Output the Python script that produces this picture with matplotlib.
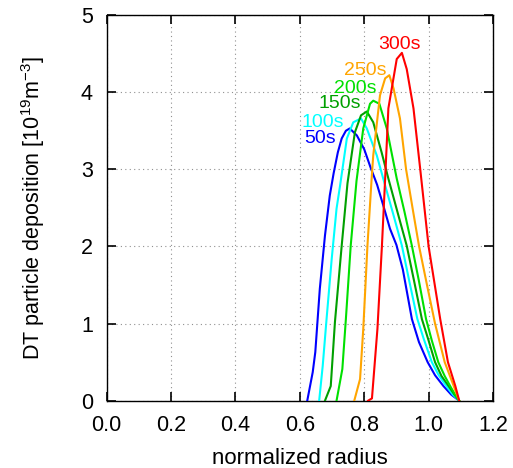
import matplotlib
matplotlib.use("Agg")
import matplotlib.pyplot as plt

plt.rcParams['font.family'] = ['Liberation Sans', 'DejaVu Sans']
plt.rcParams['mathtext.default'] = 'regular'

# ---- data (normalized radius, deposition in 1e19 m^-3) ----
r_50 = [0.623, 0.640, 0.648, 0.662, 0.678, 0.693, 0.705, 0.718, 0.730, 0.743, 0.755,
        0.777, 0.800, 0.820, 0.840, 0.860, 0.880, 0.900, 0.920, 0.948, 0.970, 0.997, 1.020,
        1.046, 1.070, 1.095]
d_50 = [0.0, 0.37, 0.63, 1.45, 2.14, 2.66, 2.95, 3.22, 3.40, 3.50, 3.53,
        3.44, 3.26, 3.02, 2.80, 2.52, 2.23, 2.02, 1.70, 1.06, 0.76, 0.50, 0.33,
        0.19, 0.08, 0.0]

r_100 = [0.660, 0.671, 0.683, 0.699, 0.714, 0.725, 0.746, 0.766, 0.790, 0.808, 0.839,
         0.859, 0.890, 0.917, 0.940, 0.965, 0.985, 1.010, 1.030, 1.055, 1.075, 1.095]
d_100 = [0.0, 0.45, 1.06, 1.84, 2.49, 2.79, 3.40, 3.61, 3.66, 3.53, 3.18,
         2.88, 2.42, 2.01, 1.55, 1.06, 0.80, 0.50, 0.34, 0.19, 0.08, 0.0]

r_150 = [0.678, 0.696, 0.709, 0.730, 0.748, 0.771, 0.790, 0.808, 0.828, 0.854, 0.875,
         0.905, 0.932, 0.955, 0.979, 1.000, 1.020, 1.040, 1.062, 1.080, 1.095]
d_150 = [0.0, 0.19, 1.02, 2.01, 2.82, 3.48, 3.70, 3.75, 3.61, 3.22, 2.88,
         2.42, 2.01, 1.55, 1.06, 0.78, 0.50, 0.32, 0.19, 0.08, 0.0]

r_200 = [0.714, 0.732, 0.743, 0.758, 0.776, 0.797, 0.818, 0.828, 0.847, 0.870, 0.901,
         0.925, 0.948, 0.970, 0.992, 1.010, 1.030, 1.050, 1.067, 1.082, 1.095]
d_200 = [0.0, 0.41, 1.06, 2.01, 2.85, 3.53, 3.85, 3.89, 3.85, 3.53, 2.88,
         2.45, 2.01, 1.55, 1.06, 0.78, 0.50, 0.32, 0.19, 0.08, 0.0]

r_250 = [0.769, 0.787, 0.797, 0.810, 0.823, 0.828, 0.849, 0.865, 0.878, 0.891, 0.911,
         0.930, 0.950, 0.970, 0.995, 1.020, 1.050, 1.078, 1.095]
d_250 = [0.0, 0.28, 0.93, 2.01, 2.88, 3.18, 3.96, 4.18, 4.22, 4.05, 3.66,
         3.00, 2.50, 2.01, 1.50, 1.00, 0.50, 0.19, 0.0]

r_300 = [0.812, 0.824, 0.841, 0.855, 0.865, 0.875, 0.901, 0.917, 0.932, 0.953, 0.974,
         1.000, 1.036, 1.060, 1.083, 1.095]
d_300 = [0.0, 0.03, 0.93, 2.01, 2.88, 3.79, 4.43, 4.51, 4.30, 3.79, 3.00,
         2.00, 1.06, 0.50, 0.19, 0.0]

labels = ['50s', '100s', '150s', '200s', '250s', '300s']
label_r = [0.662, 0.672, 0.724, 0.771, 0.803, 0.911]
label_d = [3.40, 3.61, 3.85, 4.05, 4.28, 4.62]
colors = ['#0000ff', '#00ffff', '#00a000', '#00e000', '#ffa500', '#ff0000']

xticks = [0.0, 0.2, 0.4, 0.6, 0.8, 1.0, 1.2]
yticks = [0, 1, 2, 3, 4, 5]

fig = plt.figure(figsize=(5.13, 4.68), dpi=100)
ax = fig.add_axes([0.208, 0.1438, 0.753, 0.824])

series = [(r_50, d_50), (r_100, d_100), (r_150, d_150),
          (r_200, d_200), (r_250, d_250), (r_300, d_300)]
for (r, d), c in zip(series, colors):
    ax.plot(r, d, color=c, lw=1.5, zorder=3)

for t, x, y, c in zip(labels, label_r, label_d, colors):
    ax.text(x, y, t, color=c, fontsize=14, ha='center', va='center', zorder=4)

ax.set_xlim(0.0, 1.2)
ax.set_ylim(0, 5)
ax.set_xticks(xticks)
ax.set_xticklabels([f'{v:.1f}' for v in xticks])
ax.set_yticks(yticks)
ax.set_yticklabels([str(v) for v in yticks])
ax.grid(True, linestyle=(0, (1, 3)), color='#909090', lw=0.8)
ax.tick_params(direction='in', top=True, right=True, length=6.5, width=1.2,
               labelsize=15.5)
ax.tick_params(axis='x', pad=10)
ax.tick_params(axis='y', pad=10)
for s in ax.spines.values():
    s.set_linewidth(1.0)

ax.set_xlabel('normalized radius', fontsize=16, labelpad=9)
ax.set_ylabel(r'DT particle deposition [10$^{19}$m$^{-3}$]', fontsize=15.5, labelpad=24)

fig.savefig('out.png', dpi=100)
